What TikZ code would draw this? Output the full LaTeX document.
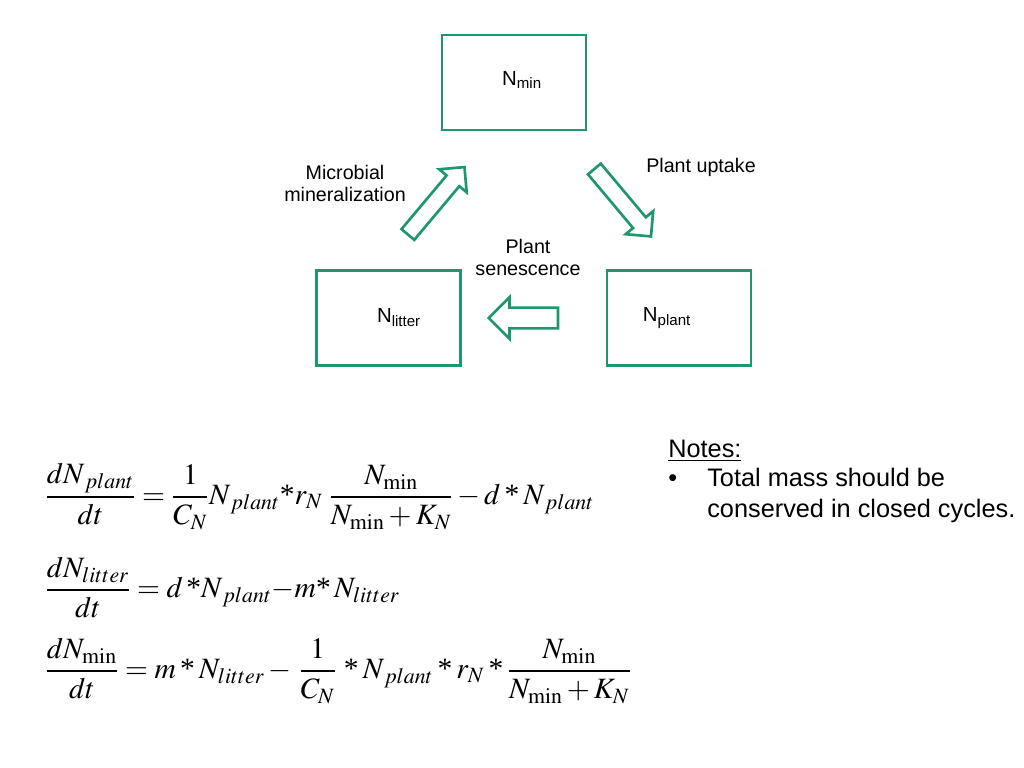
\documentclass[tikz,border=0pt]{standalone}
\usepackage{mathptmx}
\usepackage{fontspec}
\setmainfont{Liberation Serif}
\setsansfont{Liberation Sans}
\usetikzlibrary{shapes.arrows}
\definecolor{verdeN}{HTML}{1E9770}
\newcommand{\mul}{\mathbin{\mbox{*}}}

\begin{document}
\begin{tikzpicture}[
  x=0.025cm, y=-0.025cm,
  caja/.style={draw=verdeN, line width=1.9pt, minimum width=3.6cm, minimum height=2.38cm, inner sep=0pt},
  nombre/.style={font=\sffamily\fontsize{14.5}{17}\selectfont},
  flujo/.style={font=\sffamily\fontsize{14}{15.6}\selectfont, align=center},
  bloque/.style={single arrow, draw=verdeN, line width=1.9pt, inner xsep=0pt, inner ysep=0.175cm, single arrow head extend=0.24cm, minimum height=2.2cm},
  ecuacion/.style={anchor=base west, font=\fontsize{21}{25}\selectfont, inner sep=0pt},
  nota/.style={anchor=base west, font=\sffamily\fontsize{18}{21.8}\selectfont, inner sep=0pt, align=left}
]
\useasboundingbox (0,0) rectangle (1024,768);

% compartimentos
\node[caja] (nmin) at (514,82.5) {};
\node[caja] (nlitter) at (388.5,318) {};
\node[caja] (nplant) at (679,318) {};
\node[nombre] (nminlbl) at (522,80) {N\textsubscript{min}};
\node[nombre] (nlitterlbl) at (399,318) {N\textsubscript{litter}};
\node[nombre] (nplantlbl) at (667,318) {N\textsubscript{plant}};

% flujos
\node[bloque, rotate=50] (mineral) at (433.5,204) {};
\node[bloque, rotate=-50] (uptake) at (620,199.5) {};
\node[bloque, rotate=180, minimum height=1.73cm, inner ysep=0.225cm, single arrow head extend=0.26cm] (senesc) at (528.5,318) {};
\node[flujo] (minerallbl) at (345,183) {Microbial\\mineralization};
\node[flujo] (uptakelbl) at (701,167) {Plant uptake};
\node[flujo] (senesclbl) at (528,257) {Plant\\senescence};

% ecuaciones
\node[ecuacion] (eqplant) at (45,504.4) {$\displaystyle \frac{dN_{\,plant}}{dt} = \frac{1}{C_N} N_{\,plant}{\mbox{*}}r_N\; \frac{N_{\min}}{N_{\min}+K_N} - d\mul N_{\,plant}$};
\node[ecuacion] (eqlitter) at (45,597.4) {$\displaystyle \frac{dN_{litter}}{dt} = d\,{\mbox{*}}N_{\,plant}{-}m{\mbox{*}}\,N_{litter}$};
\node[ecuacion] (eqmin) at (45,678.4) {$\displaystyle \frac{dN_{\min}}{dt} = m\mul N_{litter} - \,\frac{1}{C_N}\,\mul N_{\,plant}\mul r_N\mul \frac{N_{\min}}{N_{\min}+K_N}$};

% notas
\node[nota] (notas) at (668,457) {\underline{Notes:}};
\node[nota] (punto) at (668,486) {\textbullet};
\node[nota] (texto) at (707,517) {Total mass should be\\conserved in closed cycles.};
\end{tikzpicture}
\end{document}
